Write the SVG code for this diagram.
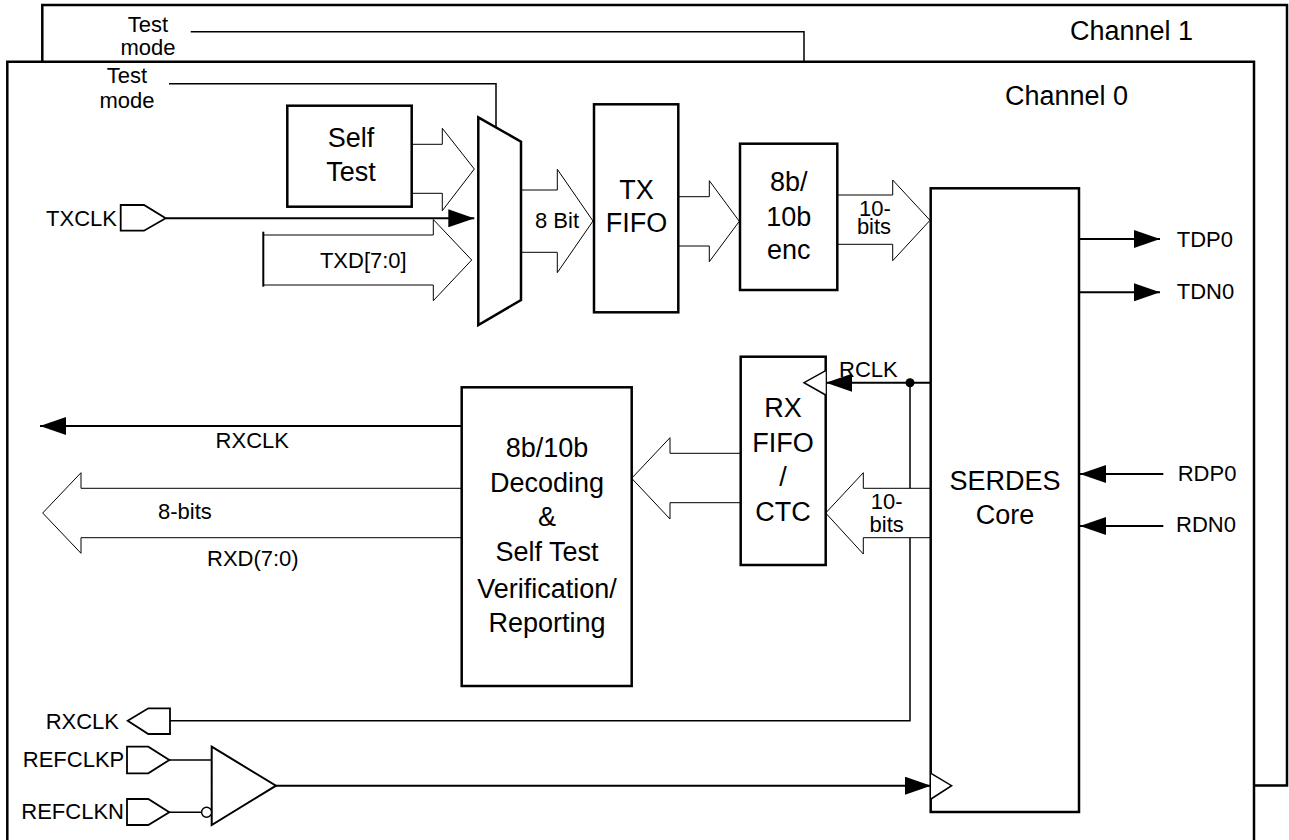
<svg xmlns="http://www.w3.org/2000/svg" width="1289" height="840" viewBox="0 0 1289 840">
<style>
text{font-family:"Liberation Sans",Arial,sans-serif;fill:#000}
.lb{font-size:22px}
.bg{font-size:27px}
.box{fill:#fff;stroke:#000;stroke-width:2.5}
.ch{fill:#fff;stroke:#000;stroke-width:2.5}
.wa{fill:#fff;stroke:#000;stroke-width:1}
.ln{fill:none;stroke:#000;stroke-width:2}
.tn{fill:none;stroke:#000;stroke-width:1.5}
.port{fill:#fff;stroke:#000;stroke-width:1.8}
.ck{fill:#fff;stroke:#000;stroke-width:1.5}
</style>
<defs>
<marker id="ah" markerUnits="userSpaceOnUse" markerWidth="26" markerHeight="18" refX="26" refY="9" orient="auto">
<path d="M0,0 L26,9 L0,18 z" fill="#000"/>
</marker>
</defs>
<rect width="1289" height="840" fill="#fff"/>

<g id="channel1">
<path class="ch" d="M42.3,62 V5 H1287 V785.5 H1254"/>
<text class="bg" x="1070" y="40">Channel 1</text>
<text class="lb" x="148" y="31.7" text-anchor="middle">Test</text>
<text class="lb" x="148" y="55" text-anchor="middle">mode</text>
<path class="tn" d="M190.7,31.7 H804 V61.7"/>
</g>

<g id="channel0">
<path class="ch" d="M7.3,845 V61.7 H1254 V845"/>
<text class="bg" x="1005" y="105">Channel 0</text>
<text class="lb" x="127" y="83.3" text-anchor="middle">Test</text>
<text class="lb" x="127" y="108" text-anchor="middle">mode</text>
</g>

<g id="connectors">
<path class="tn" d="M169,83.7 H496 V128"/>
<!-- TXCLK -->
<line class="ln" x1="165.7" y1="218.3" x2="474.3" y2="218.3" marker-end="url(#ah)"/>
<!-- TDP0/TDN0 -->
<line class="ln" x1="1079" y1="239" x2="1160" y2="239" marker-end="url(#ah)"/>
<line class="ln" x1="1079" y1="292.3" x2="1160" y2="292.3" marker-end="url(#ah)"/>
<!-- RDP0/RDN0 -->
<line class="ln" x1="1163.3" y1="474" x2="1080" y2="474" marker-end="url(#ah)"/>
<line class="ln" x1="1163.3" y1="526" x2="1080" y2="526" marker-end="url(#ah)"/>
<!-- RCLK -->
<line class="ln" x1="930.7" y1="382.7" x2="826" y2="382.7" marker-end="url(#ah)"/>
<circle cx="910" cy="382.7" r="4.5" fill="#000"/>
<path class="tn" d="M910,382.7 V720.7 H170"/>
<!-- RXCLK output -->
<line class="ln" x1="461.7" y1="426" x2="40" y2="426" marker-end="url(#ah)"/>
<!-- REFCLK -->
<line class="tn" x1="169.3" y1="760" x2="211.7" y2="760"/>
<line class="tn" x1="169.3" y1="812.3" x2="201.5" y2="812.3"/>
<line class="ln" x1="276" y1="785.7" x2="931" y2="785.7" marker-end="url(#ah)"/>
<!-- wide arrows -->
<path class="wa" d="M412,144.3 H442.3 V128.3 L474.3,169 L442.3,210.7 V193.3 H412"/>
<path class="wa" d="M263.3,235 H433.3 V219.5 L471.7,260 L433.3,300.7 V285 H263.3"/>
<line x1="263.3" y1="231.7" x2="263.3" y2="286.7" stroke="#000" stroke-width="2"/>
<path class="wa" d="M521,190 H557.3 V169.3 L593,221 L557.3,272.7 V252.3 H521"/>
<path class="wa" d="M678.3,196.7 H709.3 V180.7 L739.3,221.3 L709.3,261.7 V246 H678.3"/>
<path class="wa" d="M837.3,195 H892.7 V180 L930,220.3 L892.7,260.7 V244.3 H837.3"/>
<path class="wa" d="M930.7,488.3 H863.3 V472.7 L825.7,513 L863.3,554 V537.7 H930.7"/>
<path class="wa" d="M740.7,453.3 H670 V437.7 L631.7,478.3 L670,519 V502.7 H740.7"/>
<path class="wa" d="M461.7,488.3 H81 V472.7 L42.7,513 L81,553.3 V537.7 H461.7"/>
<text class="lb" x="535" y="227.7">8 Bit</text>
<text class="lb" x="363.3" y="268.3" text-anchor="middle">TXD[7:0]</text>
<text class="lb" x="875" y="215.7" text-anchor="middle">10-</text>
<text class="lb" x="874" y="234" text-anchor="middle">bits</text>
<text class="lb" x="886.7" y="509" text-anchor="middle">10-</text>
<text class="lb" x="886.7" y="531.7" text-anchor="middle">bits</text>
<text class="lb" x="839" y="376.7">RCLK</text>
<text class="lb" x="252.3" y="448.3" text-anchor="middle">RXCLK</text>
<text class="lb" x="158" y="519.3">8-bits</text>
<text class="lb" x="207" y="565.7">RXD(7:0)</text>
<text class="lb" x="1176.7" y="246.7">TDP0</text>
<text class="lb" x="1176.7" y="299.3">TDN0</text>
<text class="lb" x="1177.7" y="480.7">RDP0</text>
<text class="lb" x="1176" y="532.3">RDN0</text>
</g>

<g id="mux">
<polygon class="box" points="478.3,117.3 521,141.7 521,300 478.3,325"/>
</g>

<g id="selftest">
<rect class="box" x="287.3" y="105.7" width="124.4" height="101"/>
<text class="bg" x="351" y="146.7" text-anchor="middle">Self</text>
<text class="bg" x="351" y="181" text-anchor="middle">Test</text>
</g>

<g id="txfifo">
<rect class="box" x="594" y="104.3" width="84.3" height="208"/>
<text class="bg" x="636.5" y="199" text-anchor="middle">TX</text>
<text class="bg" x="636.5" y="232" text-anchor="middle">FIFO</text>
</g>

<g id="enc">
<rect class="box" x="740" y="143.7" width="97.3" height="146.3"/>
<text class="bg" x="788.7" y="190.7" text-anchor="middle">8b/</text>
<text class="bg" x="788.7" y="225.7" text-anchor="middle">10b</text>
<text class="bg" x="788.7" y="259" text-anchor="middle">enc</text>
</g>

<g id="serdes">
<rect class="box" x="930.7" y="188.3" width="148.3" height="623.7"/>
<text class="bg" x="1005" y="490" text-anchor="middle">SERDES</text>
<text class="bg" x="1005" y="524" text-anchor="middle">Core</text>
<polyline class="ck" points="931,773.3 951.6,785.7 931,799"/>
</g>

<g id="rxfifo">
<rect class="box" x="740.7" y="356.7" width="85" height="208.3"/>
<polyline class="ck" points="825.7,370.7 804,382.7 825.7,395"/>
<text class="bg" x="783" y="417.3" text-anchor="middle">RX</text>
<text class="bg" x="783" y="451.7" text-anchor="middle">FIFO</text>
<text class="bg" x="783" y="486" text-anchor="middle">/</text>
<text class="bg" x="783" y="521" text-anchor="middle">CTC</text>
</g>

<g id="decoder">
<rect class="box" x="461.7" y="387.3" width="170" height="298.7"/>
<text class="bg" x="547" y="457.3" text-anchor="middle">8b/10b</text>
<text class="bg" x="547" y="492.3" text-anchor="middle">Decoding</text>
<text class="bg" x="547" y="526" text-anchor="middle">&amp;</text>
<text class="bg" x="547" y="561" text-anchor="middle">Self Test</text>
<text class="bg" x="547" y="597.7" text-anchor="middle">Verification/</text>
<text class="bg" x="547" y="632" text-anchor="middle">Reporting</text>
</g>

<g id="txclk-port">
<polygon class="port" points="120.7,205 144,205 165.7,218.3 144,230.7 120.7,230.7"/>
<text class="lb" x="117" y="225.7" text-anchor="end">TXCLK</text>
</g>

<g id="rxclk-port">
<polygon class="port" points="170,708.3 148.3,708.3 127.7,720.7 148.3,734 170,734"/>
<text class="lb" x="119" y="729" text-anchor="end">RXCLK</text>
</g>

<g id="refclkp-port">
<polygon class="port" points="127,746.7 148.3,746.7 169.3,760 148.3,773.3 127,773.3"/>
<text class="lb" x="124.3" y="766.7" text-anchor="end">REFCLKP</text>
</g>

<g id="refclkn-port">
<polygon class="port" points="127,799 148.3,799 169.3,812.3 148.3,825 127,825"/>
<text class="lb" x="124" y="819.3" text-anchor="end">REFCLKN</text>
</g>

<g id="buffer">
<polygon class="box" points="211.7,746.7 276,785.7 211.7,825" style="stroke-width:2"/>
<circle cx="206.6" cy="812.3" r="5" fill="#fff" stroke="#000" stroke-width="1.5"/>
</g>
</svg>
